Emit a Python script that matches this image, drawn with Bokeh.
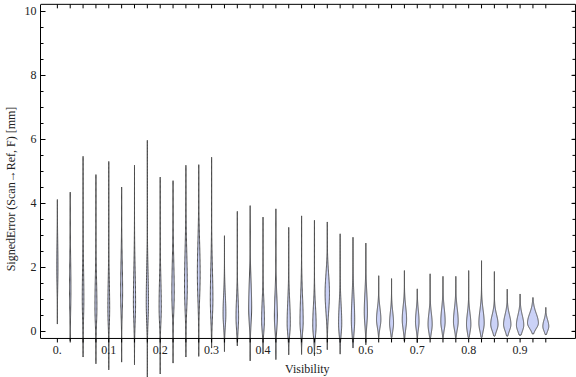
import numpy as np
from bokeh.plotting import figure
from bokeh.models import FixedTicker
from bokeh.core.properties import value
from bokeh.embed import file_html
from bokeh.resources import INLINE

# ---- data ----
visibility = [0.025 * i for i in range(39)]
err_min = [0.23, -0.29, -0.80, -1.01, -1.20, -0.96, -1.04, -1.43, -1.33, -0.99,
           -0.80, -0.78, -0.52, -0.63, -0.45, -0.92, -0.68, -0.88, -0.73, -0.72,
           -0.76, -0.57, -0.71, -0.52, -0.42, -0.20, -0.20, -0.30, -0.35, -0.20,
           -0.20, -0.20, -0.20, -0.20, -0.15, -0.15, -0.12, -0.08, -0.10]
err_max = [4.12, 4.35, 5.47, 4.90, 5.31, 4.51, 5.19, 5.97, 4.82, 4.71,
           5.19, 5.21, 5.44, 2.99, 3.75, 3.93, 3.57, 3.83, 3.25, 3.61,
           3.47, 3.42, 3.05, 2.94, 2.76, 1.74, 1.65, 1.90, 1.33, 1.80,
           1.72, 1.72, 1.90, 2.21, 1.87, 1.32, 1.17, 1.06, 0.75]
err_mode = [2.0, 1.3, 1.0, 0.75, 0.7, 1.2, 0.9, 0.9, 0.75, 1.2,
            1.4, 1.8, 1.0, 0.55, 0.45, 0.75, 0.35, 0.45, 0.25, 0.30,
            0.20, 1.2, 0.25, 0.35, 0.60, 0.37, 0.26, 0.37, 0.31, 0.22,
            0.31, 0.31, 0.22, 0.26, 0.22, 0.22, 0.20, 0.26, 0.16]
density_peak = [0.6, 0.7, 0.8, 1.0, 0.9, 1.0, 1.1, 1.1, 1.1, 1.2,
                1.4, 1.4, 1.3, 1.4, 1.3, 1.5, 1.4, 1.5, 1.6, 1.6,
                1.7, 2.2, 1.6, 1.7, 1.6, 2.2, 2.0, 2.2, 1.8, 2.1,
                2.2, 2.4, 2.2, 2.7, 3.7, 3.7, 3.7, 5.5, 3.0]
spread_low = [0.6, 0.7, 0.6, 0.5, 0.5, 0.6, 0.6, 0.6, 0.5, 0.6,
              0.7, 0.8, 0.6, 0.4, 0.4, 0.5, 0.35, 0.4, 0.35, 0.35,
              0.35, 0.6, 0.35, 0.4, 0.4, 0.25, 0.25, 0.3, 0.25, 0.25,
              0.25, 0.25, 0.25, 0.25, 0.2, 0.2, 0.2, 0.17, 0.15]
spread_high = [0.8, 1.0, 1.0, 0.9, 0.9, 1.0, 1.0, 1.0, 0.9, 1.0,
               1.1, 1.0, 1.0, 0.6, 0.6, 0.8, 0.6, 0.7, 0.7, 0.8,
               0.6, 0.6, 0.6, 0.7, 0.6, 0.35, 0.35, 0.4, 0.35, 0.35,
               0.4, 0.4, 0.35, 0.4, 0.3, 0.3, 0.3, 0.3, 0.2]
x_tick_values = [0.0, 0.1, 0.2, 0.3, 0.4, 0.5, 0.6, 0.7, 0.8, 0.9]
x_tick_labels = ["0.", "0.1", "0.2", "0.3", "0.4", "0.5", "0.6", "0.7", "0.8", "0.9"]
y_ticks = [0, 2, 4, 6, 8, 10]
y_minor = [0.5 * k for k in range(21)]

# ---- geometry ----
X0, X1 = -0.0328, 1.0097
Y0, Y1 = -1.44, 10.34
PXX = 518.0   # px per x unit
PXY = 32.0    # px per y unit
FRAME_BOTTOM = -0.22
FRAME_TOP = 10.22
FRAME_RIGHT = 1.0077
FONT = "Liberation Serif"

p = figure(width=576, height=377, x_range=(X0, X1), y_range=(Y0, Y1),
           output_backend="svg", toolbar_location=None,
           x_axis_location=None, y_axis_location="left",
           min_border_left=36, min_border_right=0, min_border_top=0, min_border_bottom=0)
p.outline_line_color = None
p.grid.visible = False
p.background_fill_color = "white"
p.border_fill_color = "white"

yax = p.yaxis[0]
yax.ticker = FixedTicker(ticks=y_ticks, minor_ticks=y_minor)
yax.bounds = (FRAME_BOTTOM, FRAME_TOP)
yax.major_tick_in = 5
yax.major_tick_out = 0
yax.minor_tick_in = 3
yax.minor_tick_out = 0
yax.axis_line_color = "black"
yax.major_tick_line_color = "black"
yax.minor_tick_line_color = "black"
yax.major_label_text_font = FONT
yax.major_label_text_font_size = "12px"
yax.major_label_text_color = "#222222"
yax.major_label_standoff = 4
yax.axis_label = "SignedError (Scan\u2192Ref, F) [mm]"
yax.axis_label_text_font = FONT
yax.axis_label_text_font_size = "12px"
yax.axis_label_text_font_style = "normal"
yax.axis_label_text_color = "#222222"
yax.axis_label_standoff = 4

# ---- violins ----
xs_all, ys_all = [], []
for x, lo, hi, m, w, sl, sh in zip(visibility, err_min, err_max, err_mode,
                                   density_peak, spread_low, spread_high):
    y = np.linspace(lo, hi, 160)
    s = np.where(y < m, sl, sh)
    h = (w / PXX) * np.exp(-0.5 * ((y - m) / s) ** 2)
    h[0] = 0.0
    h[-1] = 0.0
    xs_all.append(list(np.concatenate([x + h, (x - h)[::-1]])))
    ys_all.append(list(np.concatenate([y, y[::-1]])))

p.patches(xs=xs_all, ys=ys_all, fill_color="#CBD2F7", fill_alpha=1.0,
          line_color="#4a4a4a", line_width=1)

# ---- frame lines ----
p.segment(x0=[X0, X0, FRAME_RIGHT], y0=[FRAME_BOTTOM, FRAME_TOP, FRAME_BOTTOM],
          x1=[FRAME_RIGHT, FRAME_RIGHT, FRAME_RIGHT], y1=[FRAME_BOTTOM, FRAME_TOP, FRAME_TOP],
          line_color="black", line_width=1)

# top ticks (inward) and bottom ticks (outward) at every violin position
tick_len_y = 4.0 / PXY
p.segment(x0=visibility, y0=[FRAME_TOP] * len(visibility),
          x1=visibility, y1=[FRAME_TOP - tick_len_y] * len(visibility),
          line_color="black", line_width=1)
p.segment(x0=visibility, y0=[FRAME_BOTTOM] * len(visibility),
          x1=visibility, y1=[FRAME_BOTTOM - tick_len_y] * len(visibility),
          line_color="black", line_width=1)

# right ticks (inward)
maj_len_x = 4.0 / PXX
min_len_x = 3.0 / PXX
p.segment(x0=[FRAME_RIGHT] * len(y_ticks), y0=y_ticks,
          x1=[FRAME_RIGHT - maj_len_x] * len(y_ticks), y1=y_ticks,
          line_color="black", line_width=1)
p.segment(x0=[FRAME_RIGHT] * len(y_minor), y0=y_minor,
          x1=[FRAME_RIGHT - min_len_x] * len(y_minor), y1=y_minor,
          line_color="black", line_width=1)

# bottom tick labels and axis title
p.text(x=x_tick_values, y=[FRAME_BOTTOM - 11.5 / PXY] * len(x_tick_values), text=x_tick_labels,
       text_font=value(FONT), text_font_size=value("12px"), text_color="#222222",
       text_align="center", text_baseline="middle")
p.text(x=[0.486], y=[FRAME_BOTTOM - 30.5 / PXY], text=["Visibility"],
       text_font=value(FONT), text_font_size=value("12px"), text_color="#222222",
       text_align="center", text_baseline="middle")

open("out.html", "w").write(file_html(p, INLINE))
